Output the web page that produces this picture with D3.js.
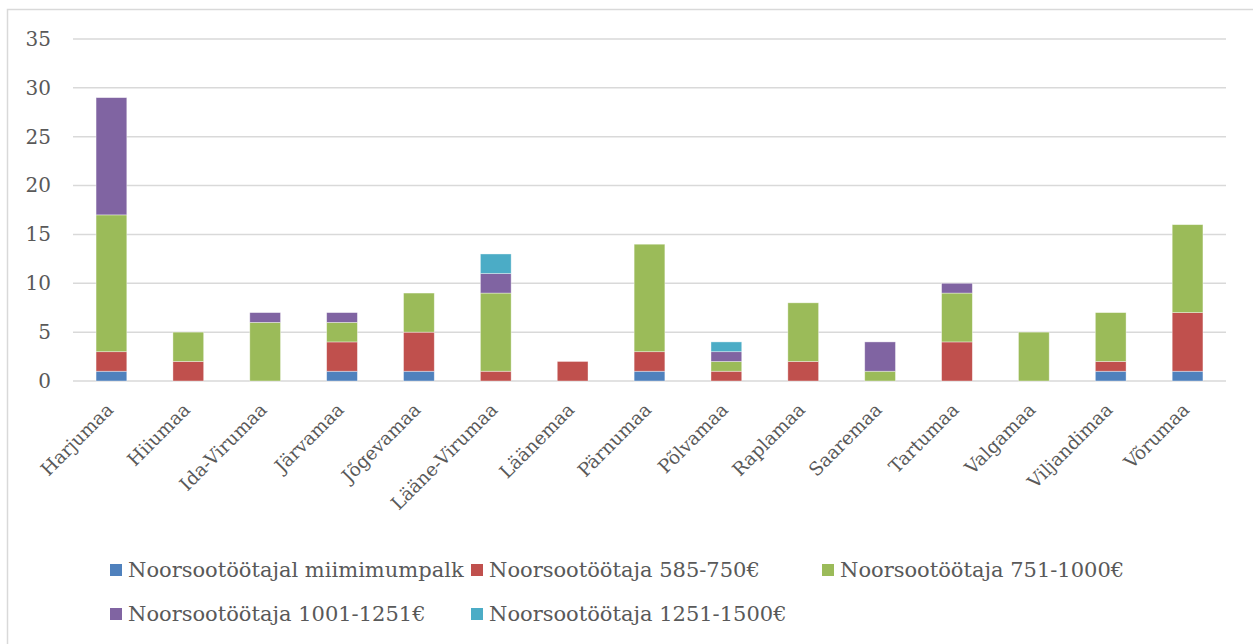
<!DOCTYPE html>
<html>
<head>
<meta charset="utf-8">
<script src="https://cdn.jsdelivr.net/npm/d3@7"></script>
<style>
  body { margin: 0; background: #fff; }
  text { font-family: "DejaVu Serif", serif; fill: #595959; }
</style>
</head>
<body>
<div id="chart"></div>
<script>
// categories and series
var regions = ["Harjumaa", "Hiiumaa", "Ida-Virumaa", "Järvamaa", "Jõgevamaa", "Lääne-Virumaa",
    "Läänemaa", "Pärnumaa", "Põlvamaa", "Raplamaa", "Saaremaa", "Tartumaa", "Valgamaa",
    "Viljandimaa", "Võrumaa"];
var seriesNames = ["Noorsootöötajal miimimumpalk", "Noorsootöötaja 585-750€", "Noorsootöötaja 751-1000€",
    "Noorsootöötaja 1001-1251€", "Noorsootöötaja 1251-1500€"];
var minPalk = [1, 0, 0, 1, 1, 0, 0, 1, 0, 0, 0, 0, 0, 1, 1];
var palk585 = [2, 2, 0, 3, 4, 1, 2, 2, 1, 2, 0, 4, 0, 1, 6];
var palk751 = [14, 3, 6, 2, 4, 8, 0, 11, 1, 6, 1, 5, 5, 5, 9];
var palk1001 = [12, 0, 1, 1, 0, 2, 0, 0, 1, 0, 3, 1, 0, 0, 0];
var palk1251 = [0, 0, 0, 0, 0, 2, 0, 0, 1, 0, 0, 0, 0, 0, 0];
var yTicks = [0, 5, 10, 15, 20, 25, 30, 35];
var colors = ["#4f81bd", "#c0504d", "#9bbb59", "#8064a2", "#4bacc6"];

var width = 1253, height = 644;
var plot = { left: 73, right: 1226, top: 39, bottom: 381 };

var svg = d3.select("#chart").append("svg")
    .attr("width", width)
    .attr("height", height);

// chart frame
svg.append("rect")
    .attr("x", 7.5).attr("y", 9.5)
    .attr("width", 1260).attr("height", 650)
    .attr("fill", "#fff")
    .attr("stroke", "#d9d9d9")
    .attr("stroke-width", 1.5);

var x = d3.scaleBand()
    .domain(regions)
    .range([plot.left, plot.right])
    .paddingInner(0.6)
    .paddingOuter(0.3);

var y = d3.scaleLinear()
    .domain([0, 35])
    .range([plot.bottom, plot.top]);

// gridlines
svg.append("g")
    .selectAll("line")
    .data(yTicks)
    .enter().append("line")
    .attr("x1", plot.left).attr("x2", plot.right)
    .attr("y1", function(d) { return y(d); })
    .attr("y2", function(d) { return y(d); })
    .attr("stroke", "#d9d9d9")
    .attr("stroke-width", 1.5);

// y axis labels
var yAxis = svg.append("g")
    .attr("transform", "translate(51,0)")
    .call(d3.axisLeft(y).tickValues(yTicks).tickSize(0).tickPadding(0));
yAxis.select(".domain").remove();
yAxis.selectAll("text")
    .attr("font-family", "DejaVu Serif")
    .attr("font-size", 20)
    .attr("fill", "#595959");

// stacked data
var table = regions.map(function(r, i) {
    return { region: r, s0: minPalk[i], s1: palk585[i], s2: palk751[i], s3: palk1001[i], s4: palk1251[i] };
});
var stack = d3.stack().keys(["s0", "s1", "s2", "s3", "s4"]);
var layers = stack(table);

svg.append("g")
    .selectAll("g")
    .data(layers)
    .enter().append("g")
    .attr("fill", function(d, i) { return colors[i]; })
    .selectAll("rect")
    .data(function(d) { return d.filter(function(p) { return p[1] > p[0]; }); })
    .enter().append("rect")
    .attr("x", function(d) { return x(d.data.region); })
    .attr("width", x.bandwidth())
    .attr("y", function(d) { return y(d[1]); })
    .attr("height", function(d) { return y(d[0]) - y(d[1]); })
    .attr("stroke", "#fff")
    .attr("stroke-opacity", 0.5)
    .attr("stroke-width", 0.75);

// x labels
svg.append("g")
    .selectAll("text")
    .data(regions)
    .enter().append("text")
    .attr("transform", function(d) {
        return "translate(" + (x(d) + x.bandwidth() / 2 + 3) + ",411) rotate(-45)";
    })
    .attr("text-anchor", "end")
    .attr("font-size", 18.5)
    .text(function(d) { return d; });

// legend
var legendPos = [[110, 570], [471, 570], [822, 570], [110, 614], [471, 614]];
var legend = svg.append("g")
    .selectAll("g")
    .data(seriesNames)
    .enter().append("g")
    .attr("transform", function(d, i) { return "translate(" + legendPos[i][0] + "," + legendPos[i][1] + ")"; });
legend.append("rect")
    .attr("x", 0).attr("y", -6)
    .attr("width", 12).attr("height", 12)
    .attr("fill", function(d, i) { return colors[i]; });
legend.append("text")
    .attr("x", 18)
    .attr("dy", "0.35em")
    .attr("font-size", 21)
    .text(function(d) { return d; });
</script>
</body>
</html>
